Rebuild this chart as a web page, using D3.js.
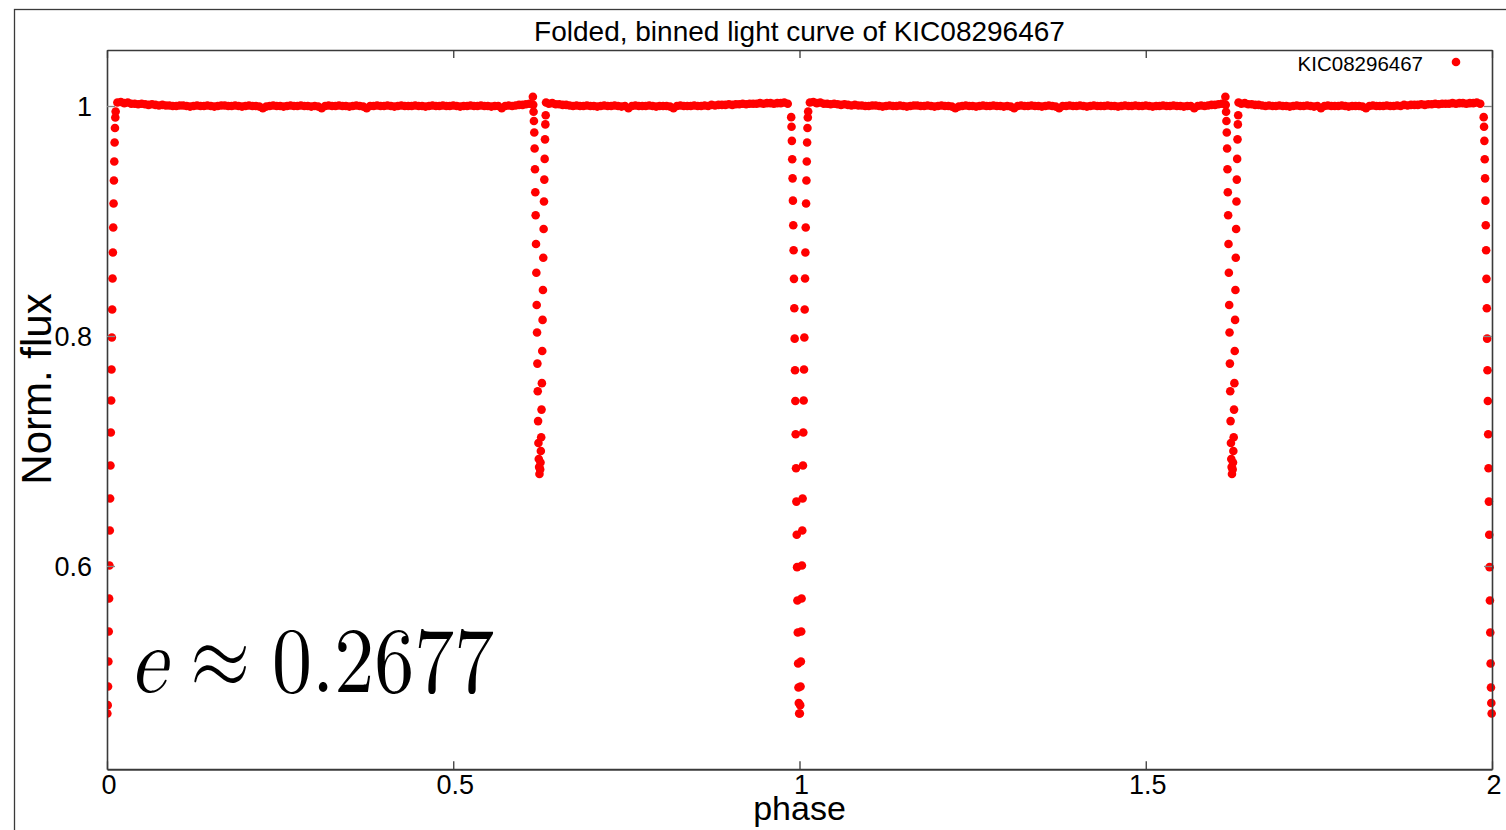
<!DOCTYPE html>
<html><head><meta charset="utf-8">
<script src="https://cdn.jsdelivr.net/npm/d3@7"></script>
<style>body{margin:0;background:#fff} svg{display:block}</style>
</head><body><svg id="c" width="1506" height="830"></svg>
<script>
// ---- data ----
const chartTitle = "Folded, binned light curve of KIC08296467";
const seriesName = "KIC08296467";
const xLabel = "phase";
const yLabel = "Norm. flux";
const xTicks = [0, 0.5, 1, 1.5, 2];
const xTickLabels = ["0", "0.5", "1", "1.5", "2"];
const yTicks = [0.6, 0.8, 1];
const yTickLabels = ["0.6", "0.8", "1"];
const xDomain = [0, 2];
const yDomain = [0.4232, 1.0487];
const foldCopies = [0, 1];   // folded curve is shown for two cycles

// primary eclipse, ingress (end of cycle)
const primIngPhase = [0.9880,0.9885,0.9890,0.9895,0.9900,0.9905,0.9910,0.9915,0.9920,0.9925,0.9930,0.9935,0.9940,0.9945,0.9950,0.9955,0.9960,0.9965,0.9970,0.9975,0.9980,0.9985,0.9990,0.9995];
const primIngFlux = [0.9903,0.9819,0.9697,0.9537,0.9371,0.9177,0.8963,0.8746,0.8497,0.8241,0.7977,0.7702,0.7435,0.7146,0.6850,0.6560,0.6271,0.5990,0.5700,0.5422,0.5152,0.4943,0.4808,0.4717];
// primary eclipse, egress (start of cycle)
const primEgrPhase = [0.0005,0.0010,0.0015,0.0020,0.0025,0.0030,0.0035,0.0040,0.0045,0.0050,0.0055,0.0060,0.0065,0.0070,0.0075,0.0080,0.0085,0.0090,0.0095,0.0100,0.0105,0.0110,0.0115,0.0120,0.0125];
const primEgrFlux = [0.4717,0.4790,0.4952,0.5170,0.5430,0.5717,0.6004,0.6309,0.6587,0.6874,0.7161,0.7439,0.7709,0.7987,0.8230,0.8500,0.8726,0.8943,0.9152,0.9352,0.9517,0.9683,0.9809,0.9900,0.9952];
// secondary eclipse
const secIngPhase = [0.6150,0.6155,0.6160,0.6165,0.6170,0.6175,0.6180,0.6185,0.6190,0.6195,0.6200,0.6205,0.6210,0.6215,0.6220,0.6225,0.6230,0.6235,0.6240,0.6245];
const secIngFlux = [1.008,1.001,0.995,0.987,0.977,0.963,0.945,0.925,0.905,0.880,0.855,0.827,0.803,0.776,0.752,0.726,0.707,0.693,0.686,0.680];
const secEgrPhase = [0.6255,0.6260,0.6265,0.6270,0.6275,0.6280,0.6285,0.6290,0.6295,0.6300,0.6305,0.6310,0.6315,0.6320,0.6325,0.6330,0.6335,0.6340];
const secEgrFlux = [0.684,0.690,0.700,0.712,0.736,0.759,0.787,0.814,0.840,0.868,0.893,0.917,0.936,0.954,0.971,0.984,0.992,1.003];
// out-of-eclipse bins (bin width 0.005)
const binWidth = 0.005;
const base1Start = 0.015;
const base1Flux = [1.003,1.0035,1.0025,1.003,1.002,1.002,
 1.0015,1.002,1.0015,1.001,1.0015,1.001,1.0005,1.001,1.0005,
 1.0005,1.000,1.000,1.0005,1.0005,1.000,0.9995,1.000,1.0005,1.000,
 1.000,1.0005,1.000,0.9995,1.000,1.0005,1.0005,1.000,1.000,1.0005,
 1.000,0.9995,1.000,1.0005,1.000,1.000,0.9995,0.998,0.9995,1.000,
 1.0005,1.000,1.000,0.9995,1.000,1.0005,1.000,1.000,1.0005,1.000,
 1.000,0.9995,1.000,0.9995,0.998,1.000,1.0005,1.000,1.000,1.0005,
 1.000,1.000,0.9995,1.000,1.0005,1.000,0.9995,0.998,1.000,1.000,
 1.0005,1.000,1.000,1.0005,1.000,0.9995,1.000,1.0005,1.000,1.000,
 1.000,1.0005,1.000,1.000,0.9995,1.000,1.0005,1.000,1.000,1.0005,
 1.000,1.000,1.0005,1.000,0.9995,1.000,1.000,1.0005,1.000,1.000,
 1.0005,1.000,1.000,0.9995,1.000,1.000,0.998,1.000,1.0005,1.000,
 1.0005,1.001,1.001,1.0015,1.002];
const base2Start = 0.638;
const base2Flux = [1.002,1.0025,1.0015,1.0015,1.001,1.001,1.0005,1.000,1.0005,1.000,
 1.000,1.0005,1.000,1.000,0.9995,1.000,1.0005,1.000,1.000,1.0005,
 1.000,0.9995,1.000,0.998,1.000,1.0005,1.000,1.000,1.000,1.0005,
 1.000,0.9995,1.000,1.000,1.000,0.9995,0.998,1.000,1.0005,1.000,
 1.000,1.000,1.0005,1.000,1.000,1.0005,1.000,1.001,1.0005,1.001,
 1.001,1.001,1.0015,1.001,1.0015,1.0015,1.002,1.0015,1.002,1.002,
 1.002,1.0025,1.002,1.0025,1.0025,1.002,1.0025,1.0025,1.003,1.002];
const annotation = {e: "e", approx: "\u2248", value: "0.2677"};

// ---- build points ----
const cycle = [];
primEgrPhase.forEach((p,i)=>cycle.push([p, primEgrFlux[i]]));
base1Flux.forEach((f,i)=>cycle.push([base1Start + i*binWidth, f]));
secIngPhase.forEach((p,i)=>cycle.push([p, secIngFlux[i]]));
secEgrPhase.forEach((p,i)=>cycle.push([p, secEgrFlux[i]]));
base2Flux.forEach((f,i)=>cycle.push([base2Start + i*binWidth, f]));
primIngPhase.forEach((p,i)=>cycle.push([p, primIngFlux[i]]));
const points = [];
foldCopies.forEach(k => cycle.forEach(d => points.push([d[0]+k, d[1]])));

// ---- layout ----
const svg = d3.select("#c");
const L = 107, R = 1492, T = 50, B = 769.3;
const x = d3.scaleLinear().domain(xDomain).range([L, R]);
const y = d3.scaleLinear().domain(yDomain).range([B, T]);
const frameCol = "#3a3a3a";
const font = "'Liberation Sans', Arial, Helvetica, sans-serif";
const dotR = 4.3;

// outer frame
svg.append("rect").attr("x",14.5).attr("y",9.5).attr("width",1520).attr("height",840)
  .attr("fill","none").attr("stroke",frameCol).attr("stroke-width",1.3);

// points (clipped to plot)
svg.append("clipPath").attr("id","clip").append("rect")
  .attr("x",L).attr("y",T).attr("width",R-L+4).attr("height",B-T);
svg.append("g").attr("clip-path","url(#clip)")
  .selectAll("circle").data(points).join("circle")
  .attr("cx",d=>x(d[0])).attr("cy",d=>y(d[1])).attr("r",dotR).attr("fill","#ff0000");

// axes (gnuplot-style inward ticks, mirrored)
const tl = 8;
svg.append("g").attr("transform",`translate(0,${B})`)
  .call(d3.axisBottom(x).tickValues(xTicks).tickSizeInner(-tl).tickSizeOuter(0).tickFormat(""))
  .call(g=>{g.select(".domain").attr("stroke",frameCol).attr("stroke-width",2);g.selectAll("line").attr("stroke",frameCol).attr("stroke-width",1.3);});
svg.append("g").attr("transform",`translate(0,${T})`)
  .call(d3.axisTop(x).tickValues(xTicks).tickSizeInner(-tl).tickSizeOuter(0).tickFormat(""))
  .call(g=>{g.select(".domain").attr("stroke",frameCol).attr("stroke-width",1.6);g.selectAll("line").attr("stroke",frameCol).attr("stroke-width",1.3);});
svg.append("g").attr("transform",`translate(${L},0)`)
  .call(d3.axisLeft(y).tickValues(yTicks).tickSizeInner(-tl).tickSizeOuter(0).tickFormat(""))
  .call(g=>{g.select(".domain").attr("stroke",frameCol).attr("stroke-width",1.6);g.selectAll("line").attr("stroke","#888").attr("stroke-width",1.3);});
svg.append("g").attr("transform",`translate(${R},0)`)
  .call(d3.axisRight(y).tickValues(yTicks).tickSizeInner(-tl).tickSizeOuter(0).tickFormat(""))
  .call(g=>{g.select(".domain").attr("stroke",frameCol).attr("stroke-width",1.6);g.selectAll("line").attr("stroke","#888").attr("stroke-width",1.3);});

// tick labels
svg.append("g").selectAll("text").data(xTicks).join("text")
  .attr("x",d=>x(d)+2).attr("y",794).attr("text-anchor","middle")
  .attr("font-family",font).attr("font-size",27).attr("fill","#000")
  .text((d,i)=>xTickLabels[i]);
svg.append("g").selectAll("text").data(yTicks).join("text")
  .attr("x",92).attr("y",d=>y(d)+10).attr("text-anchor","end")
  .attr("font-family",font).attr("font-size",27).attr("fill","#000")
  .text((d,i)=>yTickLabels[i]);

// axis labels and title
svg.append("text").attr("x",(L+R)/2).attr("y",820).attr("text-anchor","middle")
  .attr("font-family",font).attr("font-size",34).text(xLabel);
svg.append("text").attr("transform","translate(51,389) rotate(-90)").attr("text-anchor","middle")
  .attr("font-family",font).attr("font-size",42).text(yLabel);
svg.append("text").attr("x",(L+R)/2).attr("y",41).attr("text-anchor","middle")
  .attr("font-family",font).attr("font-size",28).text(chartTitle);

// legend
svg.append("text").attr("x",1423).attr("y",71).attr("text-anchor","end")
  .attr("font-family",font).attr("font-size",20.5).text(seriesName);
svg.append("circle").attr("cx",1456).attr("cy",62).attr("r",dotR).attr("fill","#ff0000");

// annotation e ≈ 0.2677
const serif = "'Latin Modern Math','Liberation Serif','Times New Roman',serif";
const ann = svg.append("g").attr("transform","translate(0,692) scale(1,1.17)");
ann.append("text").attr("x",131).attr("y",0).attr("font-family",serif).attr("font-style","italic")
  .attr("font-size",80).text(annotation.e);
ann.append("text").attr("x",190).attr("y",-4).attr("font-family",serif)
  .attr("font-size",78).text(annotation.approx);
ann.append("text").attr("x",272).attr("y",0).attr("font-family",serif)
  .attr("font-size",80).text(annotation.value);
</script></body></html>
